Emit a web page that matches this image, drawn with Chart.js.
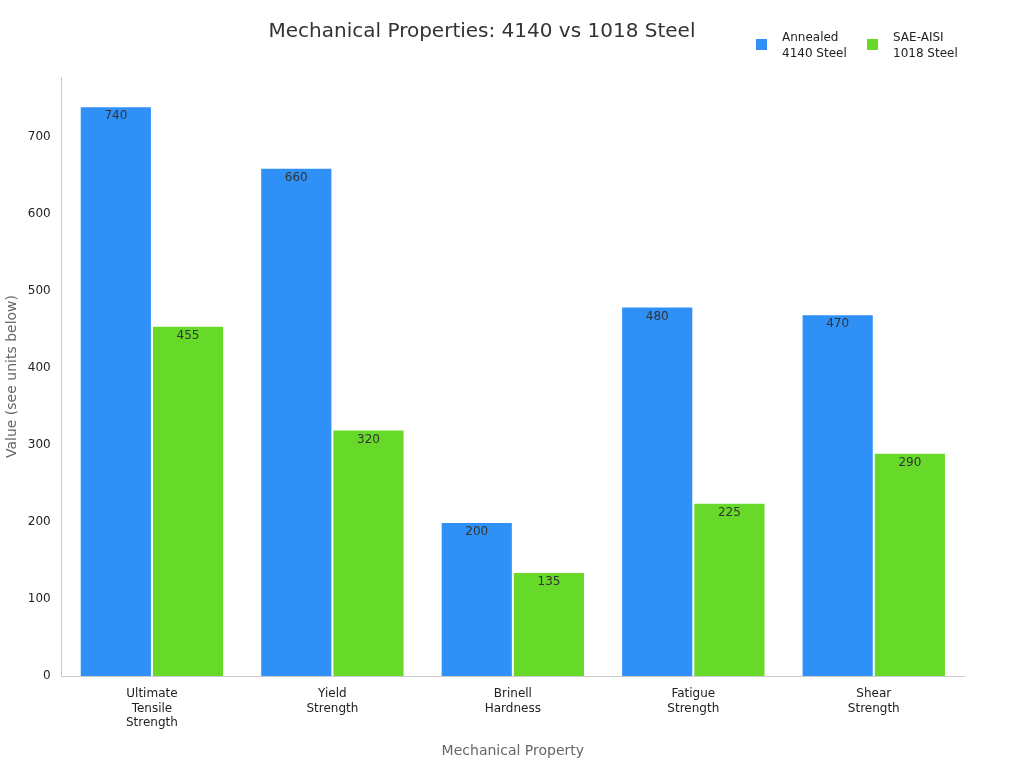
<!DOCTYPE html>
<html><head><meta charset="utf-8">
<script src="https://cdn.jsdelivr.net/npm/chart.js@4"></script>
<style>html,body{margin:0;padding:0;background:#fff}#w{width:1024px;height:768px}</style>
</head><body><div id="w"><canvas id="c"></canvas></div>
<script>
const categories = [["Ultimate","Tensile","Strength"],["Yield","Strength"],["Brinell","Hardness"],["Fatigue","Strength"],["Shear","Strength"]];
const steel4140 = [740, 660, 200, 480, 470];
const steel1018 = [455, 320, 135, 225, 290];
const seriesNames = [["Annealed","4140 Steel"],["SAE-AISI","1018 Steel"]];
const colors = ["#2f91f7","#67d928"];
const font = "'DejaVu Sans', sans-serif";

const labelsPlugin = {
  id: 'vals',
  afterDatasetsDraw(chart) {
    const ctx = chart.ctx;
    ctx.save();
    ctx.font = "12px " + font; ctx.fillStyle = "#333"; ctx.textAlign = "center"; ctx.textBaseline = "top";
    chart.data.datasets.forEach((ds, i) => {
      chart.getDatasetMeta(i).data.forEach((bar, j) => {
        ctx.fillText(String(ds.data[j]), bar.x, bar.y + 4);
      });
    });
    // legend
    ctx.font = "12px " + font; ctx.textAlign = "left"; ctx.textBaseline = "middle"; ctx.fillStyle = "#222";
    const xs = [756, 867];
    seriesNames.forEach((n, i) => {
      ctx.fillStyle = colors[i]; ctx.fillRect(xs[i], 39, 11, 11);
      ctx.fillStyle = "#222";
      ctx.fillText(n[0], xs[i] + 26, 38); ctx.fillText(n[1], xs[i] + 26, 54);
    });
    ctx.restore();
  }
};

new Chart(document.getElementById('c'), {
  type: 'bar',
  data: {
    labels: categories,
    datasets: [
      {label: "Annealed 4140 Steel", data: steel4140, backgroundColor: colors[0], borderColor: "#fff", borderWidth: 1},
      {label: "SAE-AISI 1018 Steel", data: steel1018, backgroundColor: colors[1], borderColor: "#fff", borderWidth: 1}
    ]
  },
  options: {
    responsive: true, maintainAspectRatio: false, animation: false,
    layout: {padding: {top: 0, right: 60, left: 0, bottom: 4}},
    datasets: {bar: {categoryPercentage: 0.8, barPercentage: 1.0}},
    plugins: {
      legend: {display: false},
      tooltip: {enabled: false},
      title: {display: true, text: "Mechanical Properties: 4140 vs 1018 Steel", color: "#333",
        font: {family: font, size: 20, weight: 'normal'}, padding: {top: 20, bottom: 33}}
    },
    scales: {
      x: {grid: {display: false, drawTicks: true}, border: {color: "#ccc"},
        ticks: {color: "#222", font: {family: font, size: 12}, maxRotation: 0},
        title: {display: true, text: "Mechanical Property", color: "#666", font: {family: font, size: 14}, padding: {top: 10}}},
      y: {min: 0, max: 778, grid: {display: false}, border: {color: "#ccc"},
        afterBuildTicks: (s) => { s.ticks = s.ticks.filter(t => t.value % 100 === 0); },
        ticks: {stepSize: 100, color: "#222", font: {family: font, size: 12}},
        title: {display: true, text: "Value (see units below)", color: "#666", font: {family: font, size: 14}}}
    }
  },
  plugins: [labelsPlugin]
});
</script></body></html>
